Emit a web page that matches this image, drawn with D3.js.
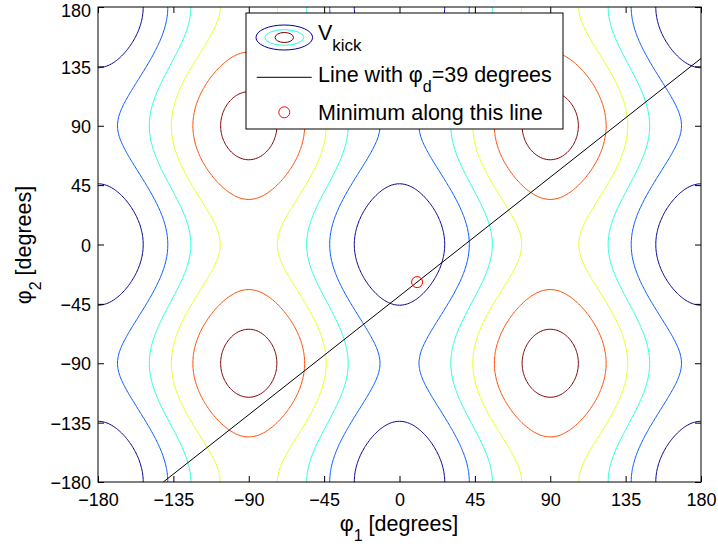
<!DOCTYPE html>
<html><head><meta charset="utf-8">
<script src="https://cdn.jsdelivr.net/npm/d3@7"></script>
<style>
body{margin:0;background:#fff}
svg{display:block}
text{font-family:Arial,"Liberation Sans",Helvetica,sans-serif}
</style>
</head><body>
<svg id="chart" width="718" height="548"></svg>
<script>
// ---- data ----
const xTicks = [-180, -135, -90, -45, 0, 45, 90, 135, 180];
const yTicks = [-180, -135, -90, -45, 0, 45, 90, 135, 180];
// V_kick field: V = a*sin^2(phi1) + b*sin^2(phi2) + c*sin^2(phi1)*sin^2(phi2)
const fieldCoef = [1.0, 0.398, 0.078];
const contourLevels = [0.206, 0.442, 0.678, 0.914, 1.150, 1.386];
const levelColors = ["#00008f", "#0059ff", "#23ffdc", "#ecff13", "#ff4900", "#800000"];
const phiD = 39;                 // line phi2 = phi1 - phiD
const lineX = [-141, 180];       // phi1 extent of drawn line
const minPoint = [10.5, -28.5];  // minimum along this line
const legendLabels = ["V", "Line with \u03c6", "Minimum along this line"];

// ---- layout ----
const svg = d3.select("#chart");
const L = 98, R = 701, T = 7, B = 482;
const x = d3.scaleLinear().domain([-180, 180]).range([L, R]);
const y = d3.scaleLinear().domain([-180, 180]).range([B, T]);

svg.append("defs").append("clipPath").attr("id", "clip")
  .append("rect").attr("x", L).attr("y", T).attr("width", R - L).attr("height", B - T);

// ---- contour grid ----
const g0 = -184, step = 1, n = 369;
const rad = Math.PI / 180;
const values = new Float64Array(n * n);
for (let j = 0; j < n; j++) {
  const s2 = Math.sin((g0 + j * step) * rad) ** 2;
  for (let i = 0; i < n; i++) {
    const s1 = Math.sin((g0 + i * step) * rad) ** 2;
    values[j * n + i] = fieldCoef[0] * s1 + fieldCoef[1] * s2 + fieldCoef[2] * s1 * s2;
  }
}
const contours = d3.contours().size([n, n]).thresholds(contourLevels)(values);
const proj = d3.geoTransform({
  point: function (px, py) {
    this.stream.point(x(g0 + (px - 0.5) * step), y(g0 + (py - 0.5) * step));
  }
});
const path = d3.geoPath(proj);
const plot = svg.append("g").attr("clip-path", "url(#clip)");
plot.selectAll("path.ct").data(contours).join("path")
  .attr("class", "ct")
  .attr("d", path)
  .attr("fill", "none")
  .attr("stroke", d => levelColors[contourLevels.indexOf(d.value)])
  .attr("stroke-width", 1);

// black line
plot.append("line")
  .attr("x1", x(lineX[0])).attr("y1", y(lineX[0] - phiD))
  .attr("x2", x(lineX[1])).attr("y2", y(lineX[1] - phiD))
  .attr("stroke", "#000").attr("stroke-width", 1);

// minimum marker
plot.append("circle")
  .attr("cx", x(minPoint[0])).attr("cy", y(minPoint[1])).attr("r", 5.5)
  .attr("fill", "none").attr("stroke", "#ff0000").attr("stroke-width", 1);

// ---- axes ----
function styleAxis(g) {
  g.select(".domain").remove();
  g.selectAll("text").attr("font-size", 18).attr("font-family", "Arial, 'Liberation Sans', sans-serif").attr("fill", "#000");
  g.selectAll("line").attr("stroke", "#000");
}
svg.append("g").attr("transform", `translate(0,${B})`)
  .call(d3.axisBottom(x).tickValues(xTicks).tickSize(-6).tickPadding(11).tickFormat(d3.format("d")))
  .call(styleAxis);
svg.append("g").attr("transform", `translate(0,${T})`)
  .call(d3.axisTop(x).tickValues(xTicks).tickSize(-6).tickFormat(""))
  .call(styleAxis);
svg.append("g").attr("transform", `translate(${L},0)`)
  .call(d3.axisLeft(y).tickValues(yTicks).tickSize(-6).tickPadding(7).tickFormat(d3.format("d")))
  .call(styleAxis)
  .call(g => g.selectAll("text").attr("dy", d => d === 180 ? "0.55em" : "0.37em"));
svg.append("g").attr("transform", `translate(${R},0)`)
  .call(d3.axisRight(y).tickValues(yTicks).tickSize(-6).tickFormat(""))
  .call(styleAxis);

svg.append("rect").attr("x", L).attr("y", T).attr("width", R - L).attr("height", B - T)
  .attr("fill", "none").attr("stroke", "#000").attr("stroke-width", 1);

// axis labels
const xl = svg.append("text").attr("x", 399).attr("y", 531).attr("text-anchor", "middle").attr("font-size", 21.5);
xl.append("tspan").text("\u03c6");
xl.append("tspan").attr("font-size", 16).attr("dy", 10).text("1");
xl.append("tspan").attr("dy", -10).text(" [degrees]");

const yl = svg.append("text").attr("transform", "translate(31,245) rotate(-90)").attr("text-anchor", "middle").attr("font-size", 21.5);
yl.append("tspan").text("\u03c6");
yl.append("tspan").attr("font-size", 16).attr("dy", 10).text("2");
yl.append("tspan").attr("dy", -10).text(" [degrees]");

// ---- legend ----
const lg = svg.append("g");
lg.append("rect").attr("x", 246).attr("y", 13).attr("width", 317).attr("height", 116)
  .attr("fill", "#fff").attr("stroke", "#000").attr("stroke-width", 1);
const icon = [[28.3, 12.5, 0], [19.5, 7.8, 2], [9.2, 5, 5]];
icon.forEach(([rx, ry, ci]) => {
  lg.append("ellipse").attr("cx", 284.3).attr("cy", 37.5).attr("rx", rx).attr("ry", ry)
    .attr("fill", "none").attr("stroke", levelColors[ci]).attr("stroke-width", 1);
});
const t1 = lg.append("text").attr("x", 318).attr("y", 39.5).attr("font-size", 21.5);
t1.append("tspan").text(legendLabels[0]);
t1.append("tspan").attr("font-size", 17).attr("dy", 11).text("kick");

lg.append("line").attr("x1", 256.7).attr("x2", 311.7).attr("y1", 77.3).attr("y2", 77.3)
  .attr("stroke", "#000").attr("stroke-width", 1);
const t2 = lg.append("text").attr("x", 318).attr("y", 82).attr("font-size", 21.5);
t2.append("tspan").text(legendLabels[1]);
t2.append("tspan").attr("font-size", 16).attr("dy", 10).text("d");
t2.append("tspan").attr("dy", -10).text("=" + phiD + " degrees");

lg.append("circle").attr("cx", 284.3).attr("cy", 112.3).attr("r", 5.5)
  .attr("fill", "none").attr("stroke", "#ff0000").attr("stroke-width", 1);
lg.append("text").attr("x", 318).attr("y", 120).attr("font-size", 21.5).text(legendLabels[2]);
</script>
</body></html>
